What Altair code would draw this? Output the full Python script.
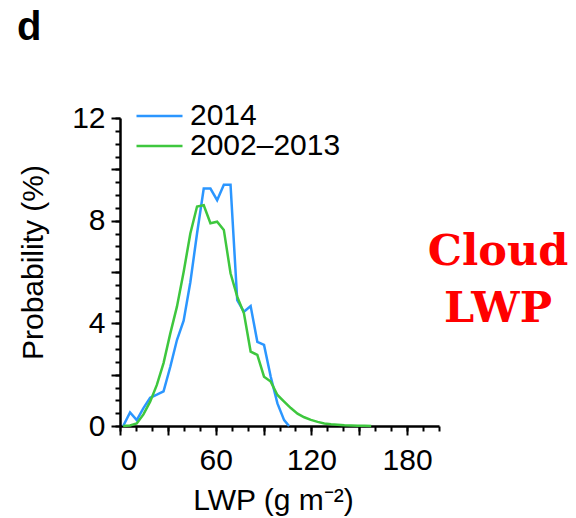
import altair as alt
import pandas as pd

FONT = "Liberation Sans"

series_names = ["2014", "2002–2013"]
series_colors = ["#2b96ff", "#3ec73e"]

lwp_2014 = [2, 6.3, 10.5, 14.7, 18.9, 23.1, 27.3, 31.5, 35.7, 39.9, 44.1, 48.3,
            52.5, 56.7, 60.9, 65.1, 69.3, 73.5, 77.7, 81.9, 86.1, 90.3, 94.5,
            98.7, 102.9, 106]
prob_2014 = [0, 0.53, 0.23, 0.7, 1.1, 1.22, 1.35, 2.3, 3.35, 4.1, 5.6, 7.5,
             9.25, 9.25, 8.8, 9.4, 9.4, 4.9, 4.45, 4.67, 3.28, 3.16, 1.92,
             0.88, 0.23, 0]

lwp_clim = [2, 6.3, 10.5, 14.7, 18.9, 23.1, 27.3, 31.5, 35.7, 39.9, 44.1, 48.3,
            52.5, 56.7, 60.9, 65.1, 69.3, 73.5, 77.7, 81.9, 86.1, 90.3, 94.5,
            98.7, 102.9, 107.1, 111.3, 115.5, 119.7, 123.9, 128.1, 132.3,
            136.5, 140.7, 144.9, 149.1, 153.3, 157.5]
prob_clim = [0, 0.02, 0.1, 0.45, 0.95, 1.6, 2.45, 3.6, 4.65, 6.0, 7.5, 8.55,
             8.6, 7.9, 7.96, 7.64, 5.95, 5.04, 4.39, 2.9, 2.77, 1.92, 1.73,
             1.21, 0.95, 0.7, 0.48, 0.34, 0.24, 0.16, 0.1, 0.07, 0.05, 0.03,
             0.02, 0.01, 0.01, 0]

x_major_ticks = [0, 30, 60, 90, 120, 150, 180]
x_minor_ticks = [0, 10, 20, 30, 40, 50, 60, 70, 80, 90, 100, 110, 120, 130,
                 140, 150, 160, 170, 180, 190, 200]
y_major_ticks = [0, 2, 4, 6, 8, 10, 12]
y_minor_ticks = [0, 0.5, 1, 1.5, 2, 2.5, 3, 3.5, 4, 4.5, 5, 5.5, 6, 6.5, 7,
                 7.5, 8, 8.5, 9, 9.5, 10, 10.5, 11, 11.5, 12]

df = pd.concat([
    pd.DataFrame({"lwp": lwp_2014, "prob": prob_2014, "series": series_names[0]}),
    pd.DataFrame({"lwp": lwp_clim, "prob": prob_clim, "series": series_names[1]}),
], ignore_index=True)

xscale = alt.Scale(domain=[0, 200], nice=False)
yscale = alt.Scale(domain=[0, 12], nice=False)

base = alt.Chart(df)

lines = base.mark_line(strokeWidth=2.5).encode(
    x=alt.X("lwp:Q", scale=xscale, axis=alt.Axis(
        orient="bottom", values=x_major_ticks,
        labelExpr="datum.value % 60 === 0 ? datum.label : ''",
        tickSize=9, labelPadding=10, labelFontSize=30, labelFont=FONT,
        labelColor="black",
        title="LWP (g m⁻²)", titleFontSize=30, titleFont=FONT,
        titleFontWeight="normal", titleColor="black",
        titleBaseline="alphabetic", titleAlign="center", titleX=153, titleY=83)),
    y=alt.Y("prob:Q", scale=yscale, axis=alt.Axis(
        orient="left", values=y_major_ticks,
        labelExpr="datum.value % 4 === 0 ? datum.label : ''",
        tickSize=9, labelPadding=6, labelFontSize=30, labelFont=FONT,
        labelColor="black",
        title="Probability (%)", titleFontSize=30, titleFont=FONT,
        titleFontWeight="normal", titleColor="black",
        titleBaseline="alphabetic", titleAlign="center", titleAngle=270,
        titleX=-78, titleY=144)),
    color=alt.Color("series:N",
                    scale=alt.Scale(domain=series_names, range=series_colors),
                    legend=alt.Legend(orient="none", legendX=15, legendY=-15,
                                      title=None, symbolType="stroke",
                                      symbolSize=2116, symbolStrokeWidth=2.5,
                                      labelFontSize=30, labelFont=FONT,
                                      labelColor="black", labelOffset=6,
                                      clipHeight=26, rowPadding=0, padding=0)),
)

minor = base.mark_point(opacity=0).encode(
    x=alt.X("lwp:Q", scale=xscale, axis=alt.Axis(
        orient="bottom", values=x_minor_ticks, tickSize=5, labels=False,
        domain=False, title=None)),
    y=alt.Y("prob:Q", scale=yscale, axis=alt.Axis(
        orient="left", values=y_minor_ticks, tickSize=5, labels=False,
        domain=False, title=None)),
)

panel_df = pd.DataFrame({"t": ["d"]})
panel = alt.Chart(panel_df).mark_text(
    align="left", baseline="alphabetic", fontSize=40, fontWeight="bold",
    font=FONT, color="black"
).encode(x=alt.value(-103), y=alt.value(-78), text="t:N")

note_df = pd.DataFrame({"t": ["Cloud\nLWP"]})
note = alt.Chart(note_df).mark_text(
    align="center", baseline="alphabetic", fontSize=43, fontWeight="bold",
    font="DejaVu Serif", color="#ff0000", lineBreak="\n", lineHeight=57
).encode(x=alt.value(378), y=alt.value(147), text="t:N")

chart = alt.layer(lines, minor, panel, note).resolve_axis(
    x="independent", y="independent"
).properties(
    width=319, height=308,
    autosize=alt.AutoSizeParams(type="none"),
    padding={"left": 112, "top": 110, "right": 129, "bottom": 92},
).configure_view(strokeWidth=0).configure_axis(
    grid=False, domainColor="black", domainWidth=2.5,
    tickColor="black", tickWidth=2,
)

chart.save("out.html", embed_options={"renderer": "svg", "actions": False})
